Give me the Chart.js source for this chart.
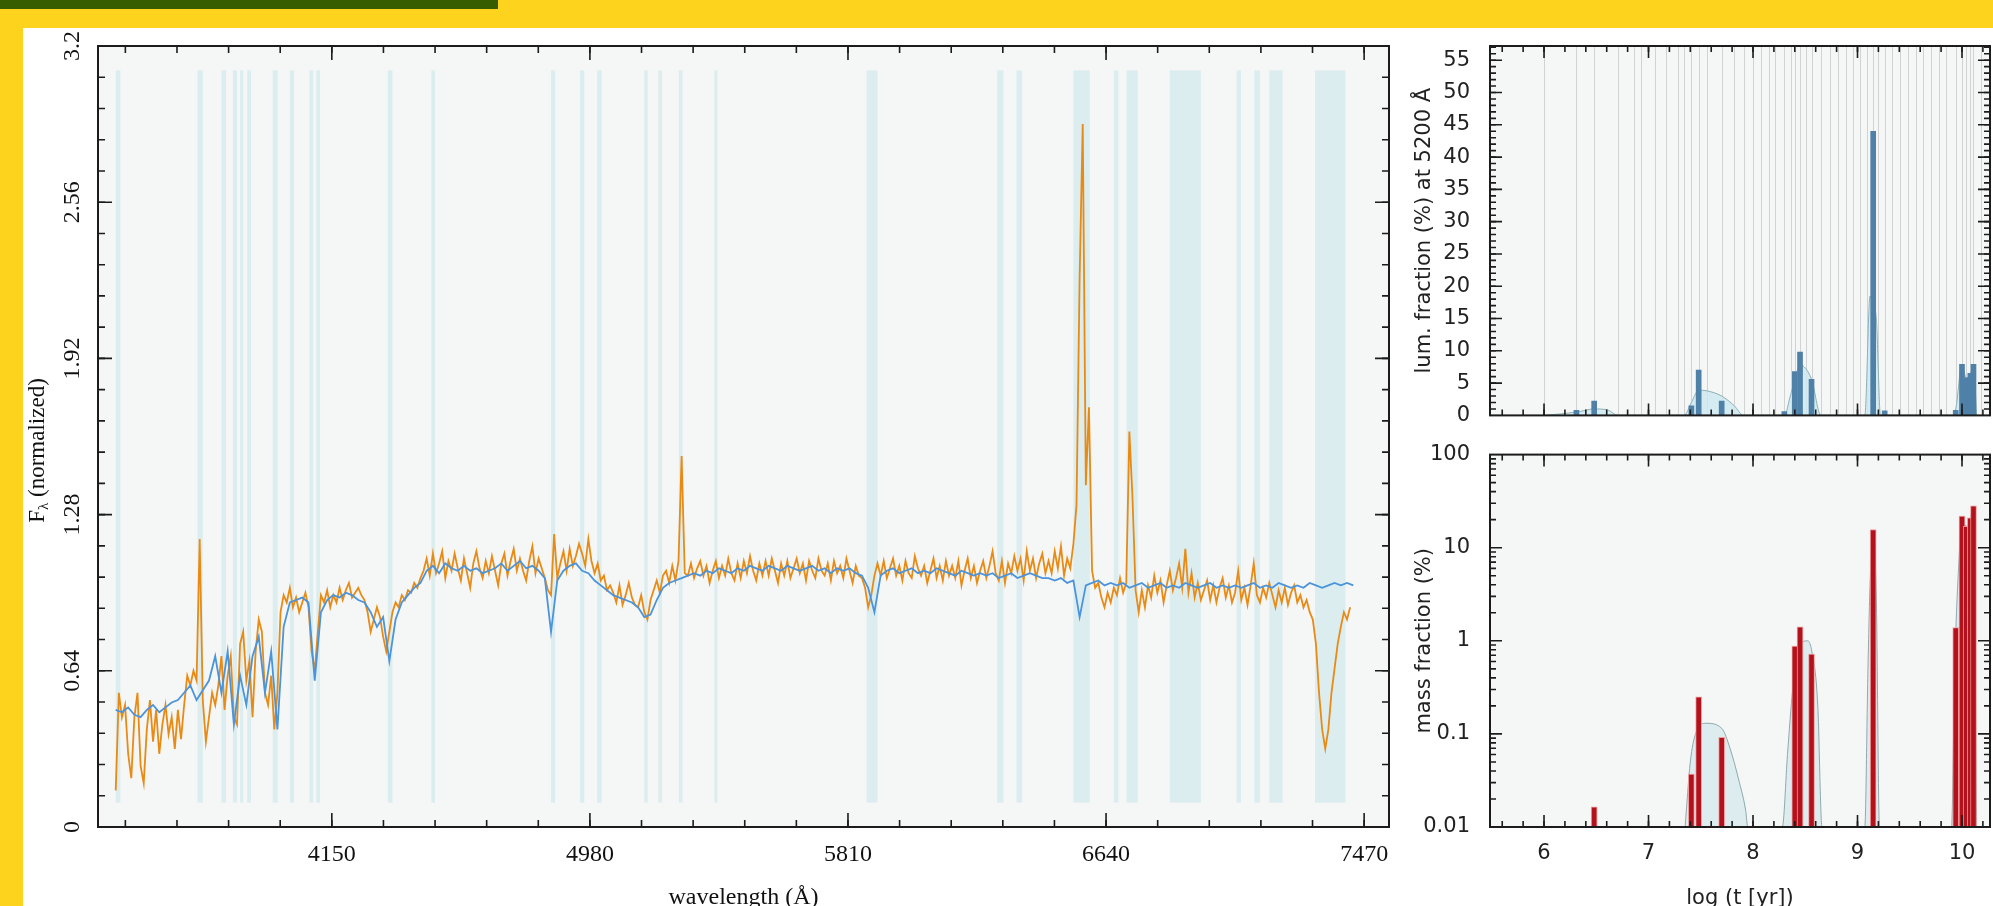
<!DOCTYPE html>
<html>
<head>
<meta charset="utf-8">
<script src="https://cdn.jsdelivr.net/npm/chart.js@4.4.1/dist/chart.umd.min.js"></script>
<style>
  html, body { margin: 0; padding: 0; overflow: hidden; }
  body { width: 1993px; height: 906px; background: #fdd31e; position: relative; }
  #topbar { position: absolute; left: 0; top: 0; width: 498px; height: 9px; background: #365e00; }
  #panel { position: absolute; left: 23px; top: 28px; right: 0; bottom: 0; background: #fff; }
  canvas { position: absolute; }
</style>
</head>
<body>
<div id="topbar"></div>
<div id="panel"></div>
<canvas id="spectrumChart" width="1440" height="920" style="left:0;top:0"></canvas>
<canvas id="lumChart" width="613" height="440" style="left:1380px;top:0"></canvas>
<canvas id="massChart" width="613" height="490" style="left:1380px;top:430px"></canvas>
<script>
// ---- spectrum (left panel) ----
const lambdaStart = 3455;      // first pixel, Å
const observedStep = 10;
const modelStep = 20;
const waveMin = 3398, waveMax = 7550;
const waveTicks = [4150, 4980, 5810, 6640, 7470];
const fluxTicks = [0, 0.64, 1.28, 1.92, 2.56, 3.2];
const fluxTickLabels = ['0', '0.64', '1.28', '1.92', '2.56', '3.2'];

const observedFlux = [
    0.15, 0.55, 0.45, 0.50, 0.30, 0.20, 0.45, 0.55, 0.25, 0.18,
    0.40, 0.52, 0.35, 0.48, 0.30, 0.42, 0.50, 0.38, 0.45, 0.32,
    0.48, 0.36, 0.50, 0.62, 0.58, 0.64, 0.60, 1.18, 0.52, 0.35,
    0.45, 0.55, 0.50, 0.58, 0.70, 0.48, 0.62, 0.70, 0.45, 0.42,
    0.75, 0.80, 0.60, 0.68, 0.45, 0.72, 0.85, 0.80, 0.55, 0.50,
    0.62, 0.40, 0.55, 0.88, 0.95, 0.92, 0.98, 0.90, 0.94, 0.88,
    0.92, 0.96, 0.90, 0.72, 0.64, 0.80, 0.95, 0.92, 0.97, 0.90,
    0.95, 0.92, 0.98, 0.93, 0.97, 1.00, 0.94, 0.96, 0.98, 0.95,
    0.93, 0.88, 0.80, 0.85, 0.90, 0.86, 0.78, 0.72, 0.80, 0.88,
    0.92, 0.90, 0.95, 0.93, 0.97, 0.96, 1.00, 0.98, 1.02, 1.05,
    1.10, 1.03, 1.12, 1.04, 1.08, 1.13, 1.02, 1.09, 1.05, 1.12,
    1.06, 1.01, 1.10, 1.04, 0.98, 1.08, 1.13, 1.06, 1.02, 1.09,
    1.04, 1.11, 1.05, 0.99, 1.08, 1.12, 1.03, 1.09, 1.14, 1.05,
    1.10, 1.05, 1.01, 1.09, 1.15, 1.04, 1.10, 1.06, 1.02, 0.97,
    0.95, 1.20, 1.02, 1.08, 1.13, 1.05, 1.14, 1.07, 1.11, 1.16,
    1.12, 1.07, 1.18, 1.09, 1.04, 1.08, 1.01, 1.03, 0.97, 0.99,
    0.96, 0.92, 0.99, 0.91, 0.95, 1.00, 0.94, 0.91, 0.90, 0.95,
    0.88, 0.85, 0.93, 0.97, 1.01, 0.96, 1.03, 1.05, 1.00, 1.07,
    1.01, 1.09, 1.52, 1.04, 1.03, 1.08, 1.02, 1.06, 1.09, 1.03,
    1.07, 1.00, 1.05, 1.09, 1.02, 1.07, 1.03, 1.10, 1.04, 1.01,
    1.08, 1.02, 1.09, 1.04, 1.11, 1.05, 1.01, 1.08, 1.03, 1.09,
    1.03, 1.10, 1.05, 1.00, 1.08, 1.03, 1.09, 1.02, 1.06, 1.10,
    1.04, 1.08, 1.01, 1.09, 1.05, 1.02, 1.10, 1.05, 1.03, 1.08,
    1.01, 1.09, 1.04, 1.07, 1.02, 1.10, 1.05, 1.00, 1.07, 1.03,
    1.02, 0.98, 0.90, 0.95, 1.03, 1.08, 1.03, 1.09, 1.02, 1.06,
    1.10, 1.03, 1.07, 1.01, 1.09, 1.04, 1.02, 1.11, 1.06, 1.03,
    1.07, 1.00, 1.05, 1.10, 1.02, 1.07, 1.01, 1.09, 1.03, 1.07,
    1.02, 1.09, 0.99, 1.05, 1.10, 1.02, 1.07, 1.00, 1.05, 1.09,
    1.02, 1.07, 1.13, 1.04, 1.01, 1.09, 1.00, 1.08, 1.04, 1.11,
    1.05, 1.10, 1.01, 1.13, 1.05, 1.10, 1.02, 1.08, 1.12, 1.04,
    1.09, 1.04, 1.13, 1.06, 1.15, 1.03, 1.10, 1.06, 1.16, 1.32,
    2.25, 2.88, 1.40, 1.72, 1.05, 0.98, 1.00, 0.94, 0.90, 0.96,
    0.92, 0.98, 0.95, 1.02, 0.96, 1.00, 1.62, 1.35, 0.97, 0.88,
    0.97, 0.90, 0.99, 0.94, 1.03, 0.96, 1.01, 0.92, 0.99, 1.05,
    0.97, 1.02, 1.08, 0.98, 1.14, 0.96, 1.04, 0.94, 1.00, 0.93,
    0.97, 1.01, 0.93, 0.99, 0.92, 0.98, 1.02, 0.94, 0.99, 0.92,
    0.96, 1.05, 0.93, 0.98, 0.91, 0.99, 1.08, 0.95, 0.92, 0.98,
    0.94, 1.00, 0.95, 0.90, 0.97, 0.92, 0.98, 0.91, 0.96, 0.99,
    0.92, 0.95, 0.90, 0.93, 0.88, 0.85, 0.75, 0.55, 0.40, 0.32,
    0.40, 0.55, 0.65, 0.75, 0.82, 0.88, 0.85, 0.90
];

const modelFlux = [
    0.48, 0.47, 0.49, 0.46, 0.45, 0.48, 0.50, 0.47, 0.49, 0.51,
    0.52, 0.55, 0.58, 0.52, 0.56, 0.60, 0.70, 0.55, 0.72, 0.42,
    0.62, 0.50, 0.70, 0.78, 0.55, 0.72, 0.40, 0.82, 0.92, 0.93,
    0.94, 0.92, 0.60, 0.88, 0.93, 0.95, 0.94, 0.96, 0.95, 0.93,
    0.92, 0.88, 0.82, 0.86, 0.68, 0.85, 0.92, 0.95, 0.98, 1.00,
    1.05, 1.07, 1.04, 1.08, 1.06, 1.05, 1.07, 1.05, 1.06, 1.04,
    1.05, 1.06, 1.08, 1.05, 1.07, 1.09, 1.06, 1.07, 1.05, 1.02,
    0.80, 1.01, 1.05, 1.07, 1.08, 1.05, 1.04, 1.01, 0.99, 0.97,
    0.95, 0.94, 0.93, 0.92, 0.90, 0.86, 0.87, 0.93, 0.98, 1.00,
    1.01, 1.02, 1.03, 1.04, 1.03, 1.05, 1.04, 1.06, 1.05, 1.04,
    1.06, 1.05, 1.07, 1.06, 1.05, 1.07, 1.06, 1.05, 1.07, 1.06,
    1.05, 1.06, 1.07, 1.05, 1.06, 1.04, 1.06, 1.05, 1.06, 1.04,
    1.03, 0.98, 0.88, 1.03, 1.05, 1.06, 1.04, 1.05, 1.06, 1.04,
    1.05, 1.04, 1.06, 1.05, 1.04, 1.03, 1.05, 1.04, 1.03, 1.04,
    1.03, 1.04, 1.02, 1.03, 1.04, 1.02, 1.03, 1.04, 1.03, 1.02,
    1.02, 1.01, 1.02, 1.00, 1.01, 0.86, 0.99, 1.00, 1.01, 0.99,
    1.00, 0.99, 1.00, 0.98, 0.99, 1.00, 0.98, 0.99, 1.00, 0.98,
    0.99, 0.98, 1.00, 0.99, 0.98, 0.99, 1.00, 0.98, 0.99, 0.98,
    0.99, 0.98, 0.99, 1.00, 0.98, 0.99, 0.98, 1.00, 0.99, 0.98,
    0.99, 0.98, 1.00, 0.99, 0.98, 0.99, 1.00, 0.99, 1.00, 0.99
];

// masked / flagged wavelength windows (Å)
const maskedRanges = [
    [3455, 3470], [3718, 3735], [3795, 3810], [3832, 3845], [3855, 3865],
    [3878, 3890], [3960, 3976], [4015, 4028], [4078, 4090], [4100, 4112],
    [4330, 4345], [4470, 4482], [4855, 4868], [4948, 4962], [5003, 5018],
    [5155, 5166], [5200, 5212], [5266, 5278], [5380, 5390], [5870, 5905],
    [6290, 6310], [6352, 6370], [6535, 6588], [6665, 6680], [6706, 6742],
    [6845, 6945], [7060, 7074], [7117, 7135], [7165, 7208], [7312, 7410]
];
const maskLow = 0.1, maskHigh = 3.1;

// ---- population synthesis (right panels) ----
const ageMin = 5.483, ageMax = 10.268;
const ageTicks = [6, 7, 8, 9, 10];
const baseAges = [
    6.00, 6.31, 6.48, 6.71, 6.86, 6.93, 7.06, 7.17, 7.28, 7.34, 7.41, 7.48, 7.56,
    7.70, 7.82, 7.91, 8.00, 8.08, 8.15, 8.21, 8.30, 8.36, 8.40, 8.45, 8.51, 8.56,
    8.65, 8.74, 8.81, 8.89, 8.96, 9.02, 9.09, 9.15, 9.20, 9.26, 9.33, 9.41, 9.48,
    9.56, 9.63, 9.70, 9.78, 9.85, 9.94, 10.00, 10.04, 10.08, 10.11, 10.18, 10.26
];
const popAges     = [6.31, 6.48, 7.41, 7.48, 7.70, 8.30, 8.40, 8.45, 8.56, 9.15, 9.26, 9.94, 10.00, 10.04, 10.08, 10.11];
const lumFraction = [0.8, 2.2, 1.5, 7.0, 2.2, 0.6, 6.8, 9.8, 5.6, 44.0, 0.7, 0.8, 7.9, 5.8, 6.5, 7.9];
const massFraction = [null, 0.0165, 0.037, 0.25, 0.092, null, 0.88, 1.41, 0.72, 15.7, null, 1.39, 21.9, 17.0, 20.9, 28.2];

const lumSmoothAge = [6.00, 6.31, 6.48, 6.60, 6.71, 7.34, 7.41, 7.48, 7.56, 7.70, 7.82, 7.91,
    8.30, 8.36, 8.40, 8.45, 8.56, 8.65, 9.07, 9.12, 9.15, 9.18, 9.22,
    9.90, 9.94, 10.00, 10.04, 10.08, 10.11, 10.14];
const lumSmooth = [0, 0.5, 1.0, 0.9, 0, 0, 2.0, 3.9, 3.8, 3.0, 1.5, 0,
    0, 3.2, 5.5, 7.8, 5.6, 0, 0, 18.5, 17.0, 15.0, 0,
    0, 1.0, 7.9, 5.8, 6.5, 7.9, 0];

const massSmoothAge = [7.35, 7.40, 7.45, 7.55, 7.70, 7.78, 7.87, 7.93, 7.95,
    8.28, 8.33, 8.38, 8.45, 8.52, 8.56, 8.62, 8.66,
    9.07, 9.10, 9.12, 9.15, 9.18, 9.21,
    9.90, 9.93, 9.97, 10.00, 10.04, 10.08, 10.11, 10.14];
const massSmooth = [0.01, 0.05, 0.10, 0.13, 0.115, 0.07, 0.03, 0.015, 0.01,
    0.01, 0.06, 0.3, 0.9, 1.0, 0.8, 0.2, 0.01,
    0.01, 0.5, 4, 14, 3, 0.01,
    0.01, 0.5, 7, 20, 17, 21, 28, 0.01];

const lumMax = 57.2;
const lumTicks = [0, 5, 10, 15, 20, 25, 30, 35, 40, 45, 50, 55];
const massTicks = [0.01, 0.1, 1, 10, 100];
const massTickLabels = ['0.01', '0.1', '1', '10', '100'];

// ---- helpers ----
function range(from, to, step) {
    const out = [];
    for (let v = from; v <= to + step * 1e-6; v += step) out.push(+v.toFixed(4));
    return out;
}

function backdrop(spec) {
    return {
        id: 'backdrop',
        beforeDatasetsDraw(chart) {
            const { ctx, chartArea: a, scales: { x, y } } = chart;
            ctx.save();
            ctx.fillStyle = '#f5f6f6';
            ctx.fillRect(a.left, a.top, a.right - a.left, a.bottom - a.top);
            ctx.beginPath();
            ctx.rect(a.left, a.top, a.right - a.left, a.bottom - a.top);
            ctx.clip();
            if (spec.bands) {
                ctx.fillStyle = '#dcedf0';
                const yt = y.getPixelForValue(spec.bandHigh), yb = y.getPixelForValue(spec.bandLow);
                spec.bands.forEach(([lo, hi]) => {
                    const x0 = x.getPixelForValue(lo), x1 = x.getPixelForValue(hi);
                    ctx.fillRect(x0, yt, Math.max(x1 - x0, 2), yb - yt);
                });
            }
            if (spec.guides) {
                ctx.strokeStyle = '#d2d2d2';
                ctx.lineWidth = 1;
                spec.guides.forEach(v => {
                    const px = Math.round(x.getPixelForValue(v)) + 0.5;
                    ctx.beginPath();
                    ctx.moveTo(px, a.top);
                    ctx.lineTo(px, a.bottom);
                    ctx.stroke();
                });
            }
            ctx.restore();
        }
    };
}

function frameTicks(spec) {
    return {
        id: 'frameTicks',
        afterDatasetsDraw(chart) {
            const { ctx, chartArea: a, scales: { x, y } } = chart;
            ctx.save();
            ctx.strokeStyle = '#1c1c1c';
            ctx.lineWidth = 1.6;
            const xt = (vals, len) => vals.forEach(v => {
                const px = x.getPixelForValue(v);
                if (px < a.left + 1 || px > a.right - 1) return;
                ctx.beginPath();
                ctx.moveTo(px, a.bottom); ctx.lineTo(px, a.bottom - len);
                ctx.moveTo(px, a.top); ctx.lineTo(px, a.top + len);
                ctx.stroke();
            });
            const yt = (vals, len) => vals.forEach(v => {
                const py = y.getPixelForValue(v);
                if (py < a.top + 1 || py > a.bottom - 1) return;
                ctx.beginPath();
                ctx.moveTo(a.left, py); ctx.lineTo(a.left + len, py);
                ctx.moveTo(a.right, py); ctx.lineTo(a.right - len, py);
                ctx.stroke();
            });
            xt(spec.xMinor, spec.minor);
            xt(spec.xMajor, spec.major);
            yt(spec.yMinor, spec.minor);
            yt(spec.yMajor, spec.major);
            ctx.lineWidth = 2;
            ctx.strokeRect(a.left, a.top, a.right - a.left, a.bottom - a.top);
            ctx.restore();
        }
    };
}

// rotated y tick labels and F_lambda title on the spectrum panel
const spectrumYText = {
    id: 'spectrumYText',
    afterDraw(chart) {
        const { ctx, chartArea: a, scales: { y } } = chart;
        ctx.save();
        ctx.fillStyle = '#111';
        ctx.textAlign = 'center';
        ctx.textBaseline = 'middle';
        ctx.font = '24px "Liberation Serif"';
        fluxTicks.forEach((v, i) => {
            ctx.save();
            ctx.translate(73, y.getPixelForValue(v));
            ctx.rotate(-Math.PI / 2);
            ctx.fillText(fluxTickLabels[i], 0, 0);
            ctx.restore();
        });

        const bigFont = '23px "Liberation Serif"', subFont = '15px "Liberation Serif"';
        ctx.font = bigFont;
        const wF = ctx.measureText('F').width;
        const wRest = ctx.measureText(' (normalized)').width;
        ctx.font = subFont;
        const wSub = ctx.measureText('λ').width;
        const total = wF + wSub + wRest;
        ctx.translate(38, (a.top + a.bottom) / 2 + 14);
        ctx.rotate(-Math.PI / 2);
        ctx.textAlign = 'left';
        let cx = -total / 2;
        ctx.font = bigFont;
        ctx.fillText('F', cx, 0);
        cx += wF;
        ctx.font = subFont;
        ctx.fillText('λ', cx, 6);
        cx += wSub;
        ctx.font = bigFont;
        ctx.fillText(' (normalized)', cx, 0);
        ctx.restore();
    }
};

const serif = { family: 'Liberation Serif', size: 24 };
const sans = { family: 'DejaVu Sans', size: 21 };

// ---- spectrum chart ----
const observedPoints = observedFlux.map((f, i) => ({ x: lambdaStart + i * observedStep, y: f }));
const modelPoints = modelFlux.map((f, i) => ({ x: lambdaStart + i * modelStep, y: f }));

new Chart(document.getElementById('spectrumChart'), {
    type: 'line',
    data: {
        datasets: [{
            label: 'observed',
            data: observedPoints,
            borderColor: '#e98a14',
            borderWidth: 1.8,
            pointRadius: 0,
            order: 2
        }, {
            label: 'model',
            data: modelPoints,
            borderColor: '#4a94dc',
            borderWidth: 1.8,
            pointRadius: 0,
            order: 1
        }]
    },
    options: {
        responsive: false,
        animation: false,
        events: [],
        layout: { padding: { left: 0, top: 46, right: 51, bottom: 0 } },
        plugins: { legend: { display: false }, tooltip: { enabled: false } },
        scales: {
            x: {
                type: 'linear',
                min: waveMin,
                max: waveMax,
                bounds: 'data',
                grid: { display: false },
                border: { display: false },
                afterBuildTicks: s => { s.ticks = waveTicks.map(v => ({ value: v })); },
                afterFit: s => { s.height = 93; },
                ticks: {
                    callback: v => String(v),
                    padding: 5,
                    maxRotation: 0,
                    autoSkip: false,
                    color: '#111',
                    font: serif
                },
                title: {
                    display: true,
                    text: 'wavelength (Å)',
                    color: '#111',
                    font: serif,
                    padding: { top: 0, bottom: 8 }
                }
            },
            y: {
                min: 0,
                max: 3.2,
                grid: { display: false },
                border: { display: false },
                ticks: { display: false },
                afterFit: s => { s.width = 98; }
            }
        }
    },
    plugins: [
        backdrop({ bands: maskedRanges, bandLow: maskLow, bandHigh: maskHigh }),
        frameTicks({
            xMajor: waveTicks, xMinor: range(3486, 7550, 166),
            yMajor: fluxTicks, yMinor: range(0, 3.2, 0.128),
            major: 14, minor: 7
        }),
        spectrumYText
    ]
});

// ---- light fraction chart ----
const lumBars = popAges.map((t, i) => ({ x: t, y: lumFraction[i] }));
const lumCurve = lumSmoothAge.map((t, i) => ({ x: t, y: lumSmooth[i] }));

new Chart(document.getElementById('lumChart'), {
    type: 'bar',
    data: {
        datasets: [{
            type: 'bar',
            data: lumBars,
            backgroundColor: '#4e80a8',
            barThickness: 5,
            grouped: false,
            order: 1
        }, {
            type: 'line',
            data: lumCurve,
            borderColor: '#8fb0b4',
            borderWidth: 1,
            backgroundColor: 'rgba(204, 232, 241, 0.8)',
            fill: 'origin',
            pointRadius: 0,
            cubicInterpolationMode: 'monotone',
            order: 2
        }]
    },
    options: {
        responsive: false,
        animation: false,
        events: [],
        layout: { padding: { left: 0, top: 46, right: 3, bottom: 0 } },
        plugins: { legend: { display: false }, tooltip: { enabled: false } },
        scales: {
            x: {
                type: 'linear',
                min: ageMin,
                max: ageMax,
                bounds: 'data',
                offset: false,
                grid: { display: false, offset: false },
                border: { display: false },
                ticks: { display: false },
                afterFit: s => { s.height = 18; }
            },
            y: {
                min: 0,
                max: lumMax,
                bounds: 'data',
                grid: { display: false },
                border: { display: false },
                afterBuildTicks: s => { s.ticks = lumTicks.map(v => ({ value: v })); },
                afterFit: s => { s.width = 110; },
                ticks: { callback: v => String(v), padding: 12, autoSkip: false, color: '#222', font: sans },
                title: {
                    display: true,
                    text: 'lum. fraction (%) at 5200 Å',
                    color: '#222',
                    font: sans,
                    padding: { top: 32, bottom: 0 }
                }
            }
        }
    },
    plugins: [
        backdrop({ guides: baseAges }),
        frameTicks({
            xMajor: ageTicks, xMinor: range(5.6, 10.2, 0.2),
            yMajor: lumTicks, yMinor: range(0, 57, 1),
            major: 12, minor: 6
        })
    ]
});

// ---- mass fraction chart ----
const massBars = popAges
    .map((t, i) => ({ x: t, y: massFraction[i] }))
    .filter(p => p.y !== null);
const massCurve = massSmoothAge.map((t, i) => ({ x: t, y: massSmooth[i] }));
const massMinor = [];
massTicks.slice(0, -1).forEach(d => { for (let k = 2; k <= 9; k++) massMinor.push(d * k); });

new Chart(document.getElementById('massChart'), {
    type: 'bar',
    data: {
        datasets: [{
            type: 'bar',
            data: massBars,
            backgroundColor: '#b3121c',
            borderColor: 'rgba(240, 150, 150, 0.9)',
            borderWidth: 1,
            barThickness: 6,
            grouped: false,
            order: 1
        }, {
            type: 'line',
            data: massCurve,
            borderColor: '#8fa9ac',
            borderWidth: 1,
            backgroundColor: 'rgba(214, 234, 238, 0.8)',
            fill: 'start',
            pointRadius: 0,
            cubicInterpolationMode: 'monotone',
            order: 2
        }]
    },
    options: {
        responsive: false,
        animation: false,
        events: [],
        layout: { padding: { left: 0, top: 21, right: 3, bottom: 0 } },
        plugins: { legend: { display: false }, tooltip: { enabled: false } },
        scales: {
            x: {
                type: 'linear',
                min: ageMin,
                max: ageMax,
                bounds: 'data',
                offset: false,
                grid: { display: false, offset: false },
                border: { display: false },
                afterBuildTicks: s => { s.ticks = ageTicks.map(v => ({ value: v })); },
                afterFit: s => { s.height = 93; },
                ticks: { callback: v => String(v), padding: 6, maxRotation: 0, autoSkip: false, color: '#222', font: sans },
                title: {
                    display: true,
                    text: 'log (t [yr])',
                    color: '#222',
                    font: sans,
                    padding: { top: 0, bottom: 9 }
                }
            },
            y: {
                type: 'logarithmic',
                min: 0.01,
                max: 100,
                grid: { display: false },
                border: { display: false },
                afterBuildTicks: s => { s.ticks = massTicks.map(v => ({ value: v })); },
                afterFit: s => { s.width = 110; },
                ticks: {
                    callback: v => massTickLabels[massTicks.indexOf(v)],
                    padding: 12,
                    autoSkip: false,
                    color: '#222',
                    font: sans
                },
                title: {
                    display: true,
                    text: 'mass fraction (%)',
                    color: '#222',
                    font: sans,
                    padding: { top: 32, bottom: 0 }
                }
            }
        }
    },
    plugins: [
        backdrop({}),
        frameTicks({
            xMajor: ageTicks, xMinor: range(5.6, 10.2, 0.2),
            yMajor: massTicks, yMinor: massMinor,
            major: 12, minor: 6
        })
    ]
});
</script>
</body>
</html>
